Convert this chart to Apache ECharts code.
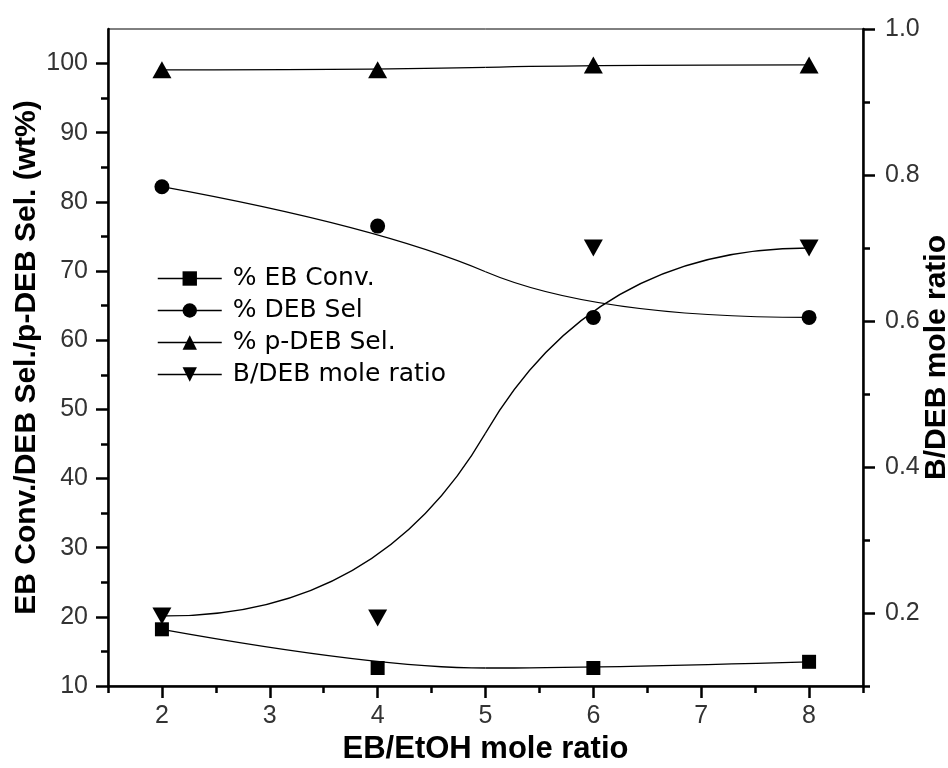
<!DOCTYPE html>
<html>
<head>
<meta charset="utf-8">
<script src="https://cdn.jsdelivr.net/npm/echarts@6/dist/echarts.min.js"></script>
<style>
  html, body { margin: 0; padding: 0; background: #fff; }
  #chart { width: 948px; height: 768px; }
</style>
</head>
<body>
<div id="chart"></div>
<script>
// EB/EtOH mole ratio (x)
var moleRatio = [2, 4, 6, 8];
// left axis series (wt%)
var ebConv = [18.2, 12.6, 12.6, 13.5];
var debSel = [82.2, 76.5, 63.3, 63.3];
var pDebSel = [99.1, 99.1, 99.8, 99.8];
// right axis series
var bDebRatio = [0.196, 0.193, 0.70, 0.70];

// tick positions
var xMajorTicks = [2, 3, 4, 5, 6, 7, 8];
var xMinorTicks = [1.5, 2.5, 3.5, 4.5, 5.5, 6.5, 7.5, 8.5];
var leftMajorTicks = [10, 20, 30, 40, 50, 60, 70, 80, 90, 100];
var leftMinorTicks = [15, 25, 35, 45, 55, 65, 75, 85, 95];
var rightMajorTicks = [0.2, 0.4, 0.6, 0.8, 1.0];
var rightMinorTicks = [0.1, 0.3, 0.5, 0.7, 0.9];

var labelFont = "'Liberation Sans Narrow', 'Liberation Sans', sans-serif";
var nameFont = "'Liberation Sans', Arial, sans-serif";

function pairs(xs, ys) {
	return xs.map(function (x, i) { return [x, ys[i]]; });
}

// quadratic B-spline through the data points used as control points
function splineItem(xs, ys) {
	return function (params, api) {
		if (params.dataIndex !== 0) return;
		var p = xs.map(function (x, i) { return api.coord([x, ys[i]]); });
		var segs = [];
		var start = p[0];
		for (var i = 1; i < p.length - 1; i++) {
			var end = (i === p.length - 2) ? p[i + 1]
				: [(p[i][0] + p[i + 1][0]) / 2, (p[i][1] + p[i + 1][1]) / 2];
			segs.push({
				type : 'bezierCurve',
				shape : {
					x1 : start[0], y1 : start[1],
					x2 : end[0], y2 : end[1],
					cpx1 : p[i][0], cpy1 : p[i][1]
				},
				style : { stroke : '#000', fill : null, lineWidth : 1.3 }
			});
			start = end;
		}
		return { type : 'group', children : segs };
	};
}

function curve(name, ys, yIdx) {
	return {
		name : name,
		type : 'custom',
		xAxisIndex : 0,
		yAxisIndex : yIdx,
		renderItem : splineItem(moleRatio, ys),
		data : pairs(moleRatio, ys),
		z : 2,
		silent : true
	};
}

function markers(name, ys, yIdx, symbol, size) {
	return {
		name : name,
		type : 'line',
		xAxisIndex : 0,
		yAxisIndex : yIdx,
		data : pairs(moleRatio, ys),
		symbol : symbol,
		symbolSize : size,
		showSymbol : true,
		itemStyle : { color : '#000' },
		lineStyle : { color : '#000', opacity : 0 },
		z : 3
	};
}

function tickAxis(pos, min, max, values, len) {
	return {
		type : 'value',
		position : pos,
		min : min,
		max : max,
		axisLine : { show : false },
		axisTick : { show : true, customValues : values, length : len, lineStyle : { color : '#000', width : 2.5 } },
		axisLabel : { show : false },
		splitLine : { show : false }
	};
}

var chart = echarts.init(document.getElementById('chart'));
var option = {
	animation : false,
	backgroundColor : '#fff',
	grid : {
		left : 108,
		right : 85,
		top : 29,
		bottom : 82,
		outerBoundsMode : 'none',
		containLabel : false,
		show : true,
		borderColor : '#000',
		borderWidth : 1
	},
	legend : {
		orient : 'vertical',
		left : 152,
		top : 261,
		itemWidth : 64,
		itemHeight : 18,
		itemGap : 7,
		selectedMode : false,
		data : [ '% EB Conv.', '% DEB Sel', '% p-DEB Sel.', 'B/DEB mole ratio' ],
		lineStyle : { color : '#000', width : 1.5, opacity : 1 },
		textStyle : {
			fontFamily : "'DejaVu Sans', sans-serif",
			fontSize : 25,
			color : '#000',
			padding : [ 0, 0, 0, 6 ]
		}
	},
	xAxis : [ {
		type : 'value',
		position : 'bottom',
		min : 1.5,
		max : 8.5,
		axisLine : { lineStyle : { color : '#000', width : 2.5 } },
		axisTick : { customValues : xMajorTicks, length : 12, lineStyle : { color : '#000', width : 2.5 } },
		axisLabel : { customValues : xMajorTicks, margin : 18, fontSize : 25, fontFamily : labelFont, color : '#333' },
		splitLine : { show : false },
		name : 'EB/EtOH mole ratio',
		nameLocation : 'middle',
		nameGap : 48,
		nameTextStyle : { fontFamily : nameFont, fontWeight : 'bold', fontSize : 31, color : '#000' }
	}, tickAxis('bottom', 1.5, 8.5, xMinorTicks, 7) ],
	yAxis : [ {
		type : 'value',
		position : 'left',
		min : 10,
		max : 105,
		axisLine : { show : true, lineStyle : { color : '#000', width : 2.5 } },
		axisTick : { show : true, customValues : leftMajorTicks, length : 12, lineStyle : { color : '#000', width : 2.5 } },
		axisLabel : { customValues : leftMajorTicks, margin : 20, fontSize : 25, fontFamily : labelFont, color : '#333' },
		splitLine : { show : false },
		name : 'EB Conv./DEB Sel./p-DEB Sel. (wt%)',
		nameLocation : 'middle',
		nameRotate : 90,
		nameGap : 66,
		nameMoveOverlap : false,
		nameTextStyle : { fontFamily : nameFont, fontWeight : 'bold', fontSize : 30, color : '#000' }
	}, {
		type : 'value',
		position : 'right',
		min : 0.1,
		max : 1.0,
		axisLine : { show : true, lineStyle : { color : '#000', width : 2.5 } },
		axisTick : { show : true, customValues : rightMajorTicks, length : 12, lineStyle : { color : '#000', width : 2.5 } },
		axisLabel : {
			customValues : rightMajorTicks, margin : 22, fontSize : 25, fontFamily : labelFont, color : '#333',
			formatter : function (v) { return v.toFixed(1); }
		},
		splitLine : { show : false },
		name : 'B/DEB mole ratio',
		nameLocation : 'middle',
		nameRotate : 90,
		nameGap : 59,
		nameMoveOverlap : false,
		nameTextStyle : { fontFamily : nameFont, fontWeight : 'bold', fontSize : 30, color : '#000' }
	}, tickAxis('left', 10, 105, leftMinorTicks, 7),
	   tickAxis('right', 0.1, 1.0, rightMinorTicks, 7) ],
	series : [
		curve('ebCurve', ebConv, 0),
		curve('debCurve', debSel, 0),
		curve('pdebCurve', pDebSel, 0),
		curve('bdebCurve', bDebRatio, 1),
		markers('% EB Conv.', ebConv, 0, 'rect', 14),
		markers('% DEB Sel', debSel, 0, 'circle', 15),
		markers('% p-DEB Sel.', pDebSel, 0, 'triangle', [ 19, 17 ]),
		markers('B/DEB mole ratio', bDebRatio, 1, 'path://M0,0L20,0L10,17Z', [ 19, 17 ])
	]
};
chart.setOption(option);
</script>
</body>
</html>
